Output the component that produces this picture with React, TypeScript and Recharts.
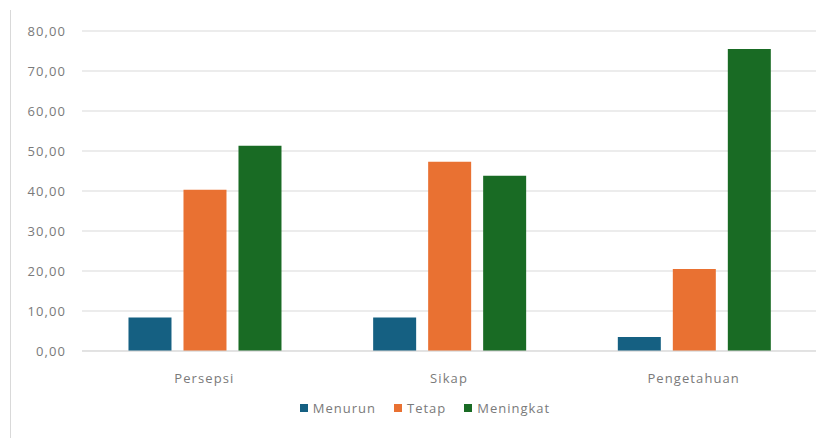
import React from 'react';
import { BarChart, Bar, XAxis, YAxis, CartesianGrid, Legend } from 'recharts';

const categories = ['Persepsi', 'Sikap', 'Pengetahuan'];
const menurun = [8.4, 8.4, 3.5];
const tetap = [40.3, 47.3, 20.5];
const meningkat = [51.3, 43.8, 75.5];
const yTicks = [0, 10, 20, 30, 40, 50, 60, 70, 80];

const seriesNames = ['Menurun', 'Tetap', 'Meningkat'];
const seriesColors = ['#156082', '#e97132', '#196b24'];

const data = categories.map((name, i) => ({
  name,
  Menurun: menurun[i],
  Tetap: tetap[i],
  Meningkat: meningkat[i],
}));

const textColor = '#7a7a7a';
const font = '"Open Sans", Lato, sans-serif';
const tickStyle = { fill: textColor, fontSize: 13, fontFamily: font, letterSpacing: 1.1 };

const LegendContent = () => (
  <div style={{ display: 'flex', justifyContent: 'center', gap: 18, paddingLeft: 18, fontSize: 13, letterSpacing: 1, color: textColor, fontFamily: font }}>
    {seriesNames.map((s, i) => (
      <span key={s} style={{ display: 'flex', alignItems: 'center' }}>
        <span style={{ width: 8, height: 8, background: seriesColors[i], marginRight: 5, display: 'inline-block' }} />
        {s}
      </span>
    ))}
  </div>
);

const App: React.FC = () => {
  return (
    <div style={{ position: 'absolute', left: 0, top: 0, width: 832, height: 438, background: '#fff', fontFamily: font }}>
      {/* chart frame edge on the left */}
      <div style={{ position: 'absolute', left: 10, top: 10, width: 1, height: 428, background: '#d9d9d9' }} />
      <BarChart
        width={832}
        height={438}
        data={data}
        margin={{ top: 31, right: 16, left: 0, bottom: 22 }}
        barCategoryGap="19%"
        barGap={12}
      >
        <CartesianGrid vertical={false} stroke="#d9d9d9" />
        <XAxis
          dataKey="name"
          axisLine={{ stroke: '#d9d9d9' }}
          tickLine={false}
          tickMargin={17}
          height={47}
          tick={tickStyle}
        />
        <YAxis
          width={82}
          domain={[0, 80]}
          ticks={yTicks}
          axisLine={false}
          tickLine={false}
          tickMargin={10}
          tickFormatter={(v: number) => v.toFixed(2).replace('.', ',')}
          tick={tickStyle}
        />
        <Legend content={LegendContent} wrapperStyle={{ top: 399, left: 0, width: 832 }} />
        <Bar dataKey="Menurun" fill={seriesColors[0]} isAnimationActive={false} />
        <Bar dataKey="Tetap" fill={seriesColors[1]} isAnimationActive={false} />
        <Bar dataKey="Meningkat" fill={seriesColors[2]} isAnimationActive={false} />
      </BarChart>
    </div>
  );
};

export default App;
